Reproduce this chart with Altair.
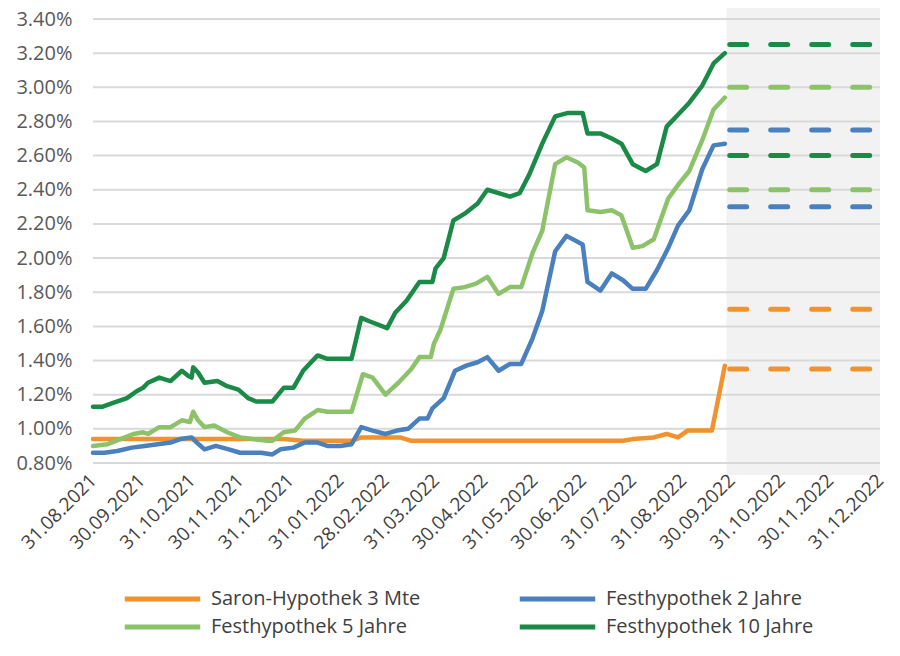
import altair as alt
import pandas as pd

START = "2021-08-31"

SERIES = ["Saron-Hypothek 3 Mte", "Festhypothek 2 Jahre",
          "Festhypothek 5 Jahre", "Festhypothek 10 Jahre"]
COLORS = ["#F0922D", "#4A80BE", "#8CC36A", "#1B8A47"]

# days after 31.08.2021 and values in percent
saron_days = [0, 118, 130, 160, 166, 190, 197, 328, 334, 347, 355, 362, 368, 383, 391]
saron_vals = [0.94, 0.94, 0.93, 0.93, 0.95, 0.95, 0.93, 0.93, 0.94, 0.95, 0.97, 0.95, 0.99, 0.99, 1.37]

fh2_days = [0, 7, 15, 24, 32, 40, 48, 54, 61, 63, 69, 76, 84, 91, 98, 104, 111, 116, 124, 131,
            139, 145, 153, 160, 166, 173, 181, 188, 195, 202, 207, 210, 217, 224, 231, 238, 244,
            251, 258, 265, 272, 278, 286, 293, 303, 306, 314, 321, 328, 334, 342, 349, 356, 362,
            369, 377, 384, 391]
fh2_vals = [0.86, 0.86, 0.87, 0.89, 0.90, 0.91, 0.92, 0.94, 0.95, 0.93, 0.88, 0.90, 0.88, 0.86,
            0.86, 0.86, 0.85, 0.88, 0.89, 0.92, 0.92, 0.90, 0.90, 0.91, 1.01, 0.99, 0.97, 0.99,
            1.00, 1.06, 1.06, 1.12, 1.18, 1.34, 1.37, 1.39, 1.42, 1.34, 1.38, 1.38, 1.53, 1.69,
            2.04, 2.13, 2.08, 1.86, 1.81, 1.91, 1.87, 1.82, 1.82, 1.93, 2.06, 2.19, 2.28, 2.52,
            2.66, 2.67]

fh5_days = [0, 9, 17, 25, 31, 34, 41, 48, 55, 60, 62, 65, 69, 75, 83, 91, 99, 108, 111, 118,
            125, 131, 139, 145, 153, 160, 167, 173, 181, 189, 197, 202, 209, 211, 215, 223, 230,
            237, 244, 251, 258, 265, 272, 278, 286, 293, 300, 304, 306, 314, 321, 327, 334, 340,
            347, 356, 363, 369, 377, 384, 391]
fh5_vals = [0.90, 0.91, 0.94, 0.97, 0.98, 0.97, 1.01, 1.01, 1.05, 1.04, 1.10, 1.05, 1.01, 1.02,
            0.98, 0.95, 0.94, 0.93, 0.93, 0.98, 0.99, 1.06, 1.11, 1.10, 1.10, 1.10, 1.32, 1.30,
            1.20, 1.27, 1.35, 1.42, 1.42, 1.50, 1.58, 1.82, 1.83, 1.85, 1.89, 1.79, 1.83, 1.83,
            2.03, 2.16, 2.55, 2.59, 2.56, 2.53, 2.28, 2.27, 2.28, 2.25, 2.06, 2.07, 2.11, 2.35,
            2.44, 2.51, 2.69, 2.87, 2.94]

fh10_days = [0, 6, 12, 21, 27, 31, 34, 41, 48, 55, 59, 61, 62, 65, 69, 77, 83, 90, 96, 101,
             105, 111, 118, 124, 130, 139, 145, 160, 166, 171, 182, 187, 194, 202, 210, 212, 217,
             223, 230, 238, 244, 251, 258, 264, 270, 278, 286, 294, 303, 306, 314, 321, 327, 334,
             342, 349, 355, 363, 369, 377, 384, 391]
fh10_vals = [1.13, 1.13, 1.15, 1.18, 1.22, 1.24, 1.27, 1.30, 1.28, 1.34, 1.31, 1.30, 1.36, 1.33,
             1.27, 1.28, 1.25, 1.23, 1.18, 1.16, 1.16, 1.16, 1.24, 1.24, 1.34, 1.43, 1.41, 1.41,
             1.65, 1.63, 1.59, 1.68, 1.75, 1.86, 1.86, 1.94, 2.00, 2.22, 2.26, 2.32, 2.40, 2.38,
             2.36, 2.38, 2.49, 2.67, 2.83, 2.85, 2.85, 2.73, 2.73, 2.70, 2.67, 2.55, 2.51, 2.55,
             2.77, 2.85, 2.91, 3.01, 3.14, 3.20]

# forecast ranges (dashed)
fc_series = ["Saron-Hypothek 3 Mte", "Saron-Hypothek 3 Mte",
             "Festhypothek 2 Jahre", "Festhypothek 2 Jahre",
             "Festhypothek 5 Jahre", "Festhypothek 5 Jahre",
             "Festhypothek 10 Jahre", "Festhypothek 10 Jahre"]
fc_vals = [1.35, 1.70, 2.30, 2.75, 2.40, 3.00, 2.60, 3.25]
fc_start = "2022-09-29"
fc_end = "2022-12-31"
shade_start = "2022-09-27"

Y_TICKS = [0.8, 1.0, 1.2, 1.4, 1.6, 1.8, 2.0, 2.2, 2.4, 2.6, 2.8, 3.0, 3.2, 3.4]
X_TICKS = [(2021, 8, 31), (2021, 9, 30), (2021, 10, 31), (2021, 11, 30), (2021, 12, 31),
           (2022, 1, 31), (2022, 2, 28), (2022, 3, 31), (2022, 4, 30), (2022, 5, 31),
           (2022, 6, 30), (2022, 7, 31), (2022, 8, 31), (2022, 9, 30), (2022, 10, 31),
           (2022, 11, 30), (2022, 12, 31)]


def build(name, days, vals):
    return pd.DataFrame({
        "series": name,
        "date": pd.Timestamp(START) + pd.to_timedelta(days, unit="D"),
        "value": vals,
    })


hist = pd.concat([
    build(SERIES[0], saron_days, saron_vals),
    build(SERIES[1], fh2_days, fh2_vals),
    build(SERIES[2], fh5_days, fh5_vals),
    build(SERIES[3], fh10_days, fh10_vals),
], ignore_index=True)

fc = pd.DataFrame({"series": fc_series, "value": fc_vals,
                   "start": pd.Timestamp(fc_start), "end": pd.Timestamp(fc_end)})
shade = pd.DataFrame({"start": [pd.Timestamp(shade_start)], "end": [pd.Timestamp(fc_end)]})
grid = pd.DataFrame({"value": Y_TICKS})

W, H = 787, 444
FONT = "Open Sans"

x_scale = alt.Scale(domain=[alt.DateTime(year=2021, month=8, date=31),
                            alt.DateTime(year=2022, month=12, date=31)])
y_scale = alt.Scale(domain=[0.8, 3.4], nice=False, zero=False)

x_axis = alt.Axis(
    values=[alt.DateTime(year=y, month=m, date=d) for (y, m, d) in X_TICKS],
    format="%d.%m.%Y", labelAngle=-45, labelAlign="right", labelBaseline="middle",
    labelFontSize=19, labelFont=FONT, labelColor="#404040", labelPadding=14,
    labelOverlap=False, labelBound=False, labelFlush=False,
    grid=False, ticks=False, domain=False, title=None)

y_axis = alt.Axis(
    values=Y_TICKS, labelExpr="format(datum.value, '.2f') + '%'",
    labelFontSize=20, labelFont=FONT, labelColor="#595959", labelPadding=21,
    grid=False, ticks=False, domain=False, title=None)

color = alt.Color(
    "series:N", scale=alt.Scale(domain=SERIES, range=COLORS), sort=SERIES,
    legend=alt.Legend(
        title=None, orient="none", legendX=29, legendY=570, columns=2, direction="horizontal",
        symbolType="stroke", symbolSize=5700, symbolStrokeWidth=5, clipHeight=20,
        labelFont=FONT, labelFontSize=20, labelColor="#404040", labelOffset=8,
        labelLimit=400, columnPadding=96, rowPadding=8))

shade_layer = alt.Chart(shade).mark_rect(color="#F2F2F2").encode(
    x=alt.X("start:T", scale=x_scale, axis=x_axis),
    x2="end:T",
    y=alt.value(-11), y2=alt.value(H + 12))

grid_layer = alt.Chart(grid).mark_rule(color="#D9D9D9", strokeWidth=2).encode(
    y=alt.Y("value:Q", scale=y_scale, axis=y_axis),
    x=alt.value(0), x2=alt.value(W))

line_layer = alt.Chart(hist).mark_line(strokeWidth=4.5, strokeJoin="round", strokeCap="round").encode(
    x=alt.X("date:T", scale=x_scale, axis=x_axis),
    y=alt.Y("value:Q", scale=y_scale, axis=y_axis),
    color=color,
    detail="series:N",
    order=alt.Order("date:T"))

fc_layer = alt.Chart(fc).mark_rule(strokeWidth=5, strokeDash=[17, 24], strokeCap="round").encode(
    x=alt.X("start:T", scale=x_scale, axis=x_axis),
    x2="end:T",
    y=alt.Y("value:Q", scale=y_scale, axis=y_axis),
    color=color)

chart = alt.layer(shade_layer, grid_layer, line_layer, fc_layer).properties(
    width=W, height=H,
    autosize=alt.AutoSizeParams(type="none"),
    padding={"left": 85, "top": 11, "right": 12, "bottom": 185},
).configure_view(stroke=None)

chart.save("out.html", embed_options={"renderer": "svg", "actions": False})
